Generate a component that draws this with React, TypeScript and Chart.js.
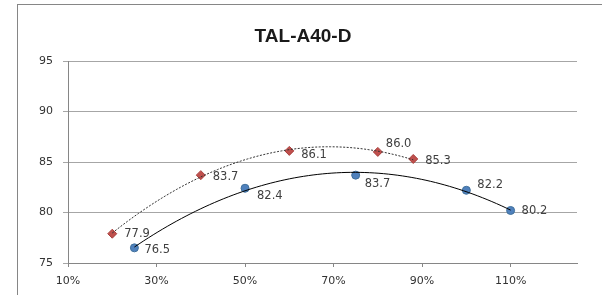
import React, { useEffect, useRef } from "react";
import { Chart, registerables } from "chart.js";

Chart.register(...registerables);

const chartTitle = "TAL-A40-D";
const blueX = [25, 50, 75, 100, 110];
const blueY = [76.5, 82.4, 83.7, 82.2, 80.2];
const redX = [20, 40, 60, 80, 88];
const redY = [77.9, 83.7, 86.1, 86.0, 85.3];
const xTickValues = [10, 30, 50, 70, 90, 110];
const yTickValues = [75, 80, 85, 90, 95];

// label nudges (pixels) relative to each marker
const blueLabelNudge = [[10, 2], [12, 8], [9, 9], [11, -5], [11, 1]];
const redLabelNudge = [[12, 0], [12, 2], [12, 4], [8, -8], [12, 2]];

function polyFit2(xs: number[], ys: number[]) {
  // least squares quadratic (Excel polynomial trendline, order 2)
  let s = [0, 0, 0, 0, 0];
  let t = [0, 0, 0];
  for (let i = 0; i < xs.length; i++) {
    const x = xs[i];
    const y = ys[i];
    for (let k = 0; k < 5; k++) s[k] += Math.pow(x, k);
    for (let k = 0; k < 3; k++) t[k] += y * Math.pow(x, k);
  }
  const A = [
    [s[0], s[1], s[2], t[0]],
    [s[1], s[2], s[3], t[1]],
    [s[2], s[3], s[4], t[2]],
  ];
  for (let c = 0; c < 3; c++) {
    let p = c;
    for (let r = c + 1; r < 3; r++) if (Math.abs(A[r][c]) > Math.abs(A[p][c])) p = r;
    [A[c], A[p]] = [A[p], A[c]];
    for (let r = 0; r < 3; r++) {
      if (r === c) continue;
      const f = A[r][c] / A[c][c];
      for (let k = c; k < 4; k++) A[r][k] -= f * A[c][k];
    }
  }
  const coef = [A[0][3] / A[0][0], A[1][3] / A[1][1], A[2][3] / A[2][2]];
  return (x: number) => coef[0] + coef[1] * x + coef[2] * x * x;
}

function trendPoints(xs: number[], ys: number[]) {
  const f = polyFit2(xs, ys);
  const lo = Math.min(...xs);
  const hi = Math.max(...xs);
  const pts: { x: number; y: number }[] = [];
  const n = 80;
  for (let i = 0; i <= n; i++) {
    const x = lo + ((hi - lo) * i) / n;
    pts.push({ x, y: f(x) });
  }
  return pts;
}

export default function App() {
  const ref = useRef<HTMLCanvasElement | null>(null);

  useEffect(() => {
    if (!ref.current) return;
    const framePlugin = {
      id: "frame",
      beforeDraw(chart: any) {
        const ctx = chart.ctx;
        ctx.save();
        ctx.fillStyle = "#ffffff";
        ctx.fillRect(0, 0, chart.width, chart.height);
        ctx.strokeStyle = "#868686";
        ctx.lineWidth = 1;
        ctx.strokeRect(17.5, 4.5, 800, 600);
        ctx.fillStyle = "#1a1a1a";
        ctx.font = "bold 19px 'Liberation Sans', Arial, sans-serif";
        ctx.textAlign = "center";
        ctx.textBaseline = "middle";
        ctx.fillText(chartTitle, 303, 37);
        ctx.restore();
      },
    };
    const labelPlugin = {
      id: "pointLabels",
      afterDatasetsDraw(chart: any) {
        const ctx = chart.ctx;
        ctx.save();
        ctx.fillStyle = "#404040";
        ctx.font = "11.5px 'DejaVu Sans', sans-serif";
        ctx.textAlign = "left";
        ctx.textBaseline = "middle";
        const sets = [
          { idx: 2, vals: blueY, nudge: blueLabelNudge },
          { idx: 3, vals: redY, nudge: redLabelNudge },
        ];
        sets.forEach((s) => {
          const meta = chart.getDatasetMeta(s.idx);
          meta.data.forEach((el: any, i: number) => {
            ctx.fillText(s.vals[i].toFixed(1), el.x + s.nudge[i][0], el.y + s.nudge[i][1]);
          });
        });
        ctx.restore();
      },
    };

    const chart = new Chart(ref.current, {
      type: "scatter",
      data: {
        datasets: [
          {
            label: "blue trend",
            data: trendPoints(blueX, blueY),
            showLine: true,
            borderColor: "#000000",
            borderWidth: 1,
            pointRadius: 0,
            fill: false,
          },
          {
            label: "red trend",
            data: trendPoints(redX, redY),
            showLine: true,
            borderColor: "#333333",
            borderWidth: 1,
            borderDash: [2, 1.5],
            pointRadius: 0,
            fill: false,
          },
          {
            label: "blue",
            data: blueX.map((x, i) => ({ x, y: blueY[i] })),
            pointStyle: "circle",
            pointRadius: 4,
            backgroundColor: "#4f81bd",
            borderColor: "#41719c",
            borderWidth: 1,
          },
          {
            label: "red",
            data: redX.map((x, i) => ({ x, y: redY[i] })),
            pointStyle: "rectRot",
            pointRadius: 4.5,
            backgroundColor: "#c0504d",
            borderColor: "#a9403d",
            borderWidth: 1,
          },
        ],
      },
      options: {
        animation: false,
        responsive: true,
        maintainAspectRatio: false,
        layout: { padding: { top: 61, right: 25, left: 0, bottom: 0 } },
        plugins: {
          legend: { display: false },
          title: { display: false },
          tooltip: { enabled: false },
        },
        scales: {
          x: {
            type: "linear",
            min: 10,
            max: 125,
            afterBuildTicks: (scale: any) => {
              scale.ticks = xTickValues.map((v) => ({ value: v }));
            },
            afterFit: (scale: any) => {
              scale.height = 32;
            },
            grid: {
              display: true,
              drawOnChartArea: false,
              drawTicks: true,
              tickLength: 4,
              color: "#868686",
            },
            border: { display: true, color: "#868686" },
            ticks: {
              padding: 8,
              color: "#333333",
              font: { family: "'DejaVu Sans', sans-serif", size: 11 },
              callback: (v: any) => v + "%",
              maxRotation: 0,
              autoSkip: false,
            },
          },
          y: {
            type: "linear",
            min: 75,
            max: 95,
            afterBuildTicks: (scale: any) => {
              scale.ticks = yTickValues.map((v) => ({ value: v }));
            },
            afterFit: (scale: any) => {
              scale.width = 68;
            },
            grid: {
              display: true,
              drawOnChartArea: true,
              drawTicks: true,
              tickLength: 5,
              color: "#a6a6a6",
            },
            border: { display: true, color: "#868686" },
            ticks: {
              padding: 10,
              color: "#333333",
              font: { family: "'DejaVu Sans', sans-serif", size: 11 },
            },
          },
        },
      },
      plugins: [framePlugin, labelPlugin],
    });
    return () => chart.destroy();
  }, []);

  return (
    <div
      style={{
        position: "absolute",
        left: 0,
        top: 0,
        width: 602,
        height: 295,
        background: "#ffffff",
      }}
    >
      <canvas ref={ref} />
    </div>
  );
}
